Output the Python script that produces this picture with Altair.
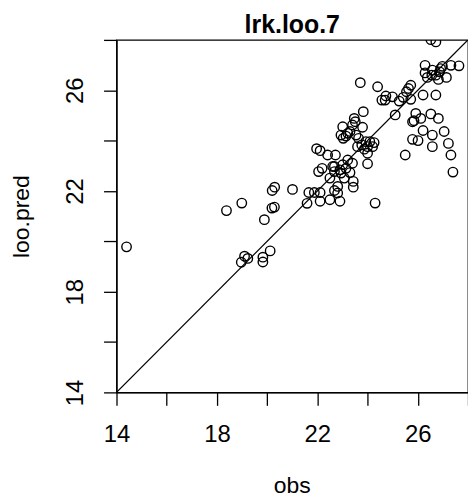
import altair as alt
import pandas as pd

obs = [14.40, 18.38, 18.99, 18.97, 19.10, 19.23, 19.83, 19.83, 20.12, 19.89,
       20.19, 20.29, 20.20, 20.30, 21.01, 21.59, 21.66, 21.88, 22.11, 22.11,
       21.97, 22.11, 22.05, 22.19, 22.41, 22.50, 22.50, 22.72, 22.68, 22.68,
       22.68, 22.81, 22.90, 22.81, 22.90, 23.01, 23.14, 23.21, 23.30, 23.40,
       23.43, 23.43, 23.01, 22.94, 23.03, 23.14, 23.30, 23.47, 23.51, 23.40,
       23.54, 23.64, 23.80, 23.83, 23.71, 23.60, 23.77, 23.87, 23.93, 24.00,
       24.09, 24.20, 24.26, 24.00, 24.00, 24.30, 24.40, 24.57, 24.73, 24.70,
       24.99, 25.10, 25.26, 25.42, 25.55, 25.63, 25.72, 25.72, 25.50, 25.79,
       25.92, 25.85, 26.01, 26.12, 26.21, 26.21, 26.29, 26.29, 26.38, 26.52,
       26.58, 26.58, 26.72, 26.82, 26.52, 26.72, 26.72, 26.82, 26.91, 26.98,
       27.05, 27.14, 27.22, 27.32, 27.40, 27.32, 27.64, 26.87, 26.58, 22.94,
       23.07, 22.61, 23.21, 25.79, 26.56]
loo_pred = [19.78, 21.22, 21.52, 19.17, 19.41, 19.32, 19.37, 19.18, 19.62, 20.86,
            21.32, 21.36, 22.02, 22.15, 22.06, 21.51, 21.94, 21.94, 21.94, 21.59,
            23.68, 23.60, 22.77, 22.90, 23.43, 22.51, 21.65, 23.43, 22.97, 22.77,
            22.02, 21.92, 21.59, 22.18, 22.84, 23.04, 22.90, 23.23, 22.73, 23.10,
            22.38, 22.15, 24.55, 24.22, 24.09, 24.18, 24.36, 24.88, 24.75, 24.62,
            24.22, 24.09, 24.53, 25.15, 26.30, 23.76, 23.83, 23.66, 23.96, 23.76,
            23.96, 23.76, 23.92, 23.50, 23.08, 21.52, 26.14, 25.61, 25.77, 25.61,
            25.74, 25.02, 25.57, 25.72, 25.94, 26.07, 26.20, 25.64, 23.43, 24.05,
            25.08, 24.79, 24.00, 24.88, 25.81, 24.40, 26.99, 26.69, 26.51, 25.06,
            24.22, 23.76, 25.81, 24.88, 28.01, 27.92, 26.60, 26.43, 26.86, 26.95,
            24.36, 26.51, 23.89, 23.43, 22.75, 26.99, 26.97, 26.73, 26.80, 22.71,
            22.51, 22.97, 24.29, 24.75, 26.60]

line_x = [14, 28]
line_y = [14, 28]
tick_values = [14, 16, 18, 20, 22, 24, 26, 28]

FONT = "Liberation Sans"

pts = pd.DataFrame({"obs": obs, "pred": loo_pred})
ln = pd.DataFrame({"obs": line_x, "pred": line_y})

xscale = alt.Scale(domain=[14, 28], nice=False, zero=False)
yscale = alt.Scale(domain=[14, 28], nice=False, zero=False)

xaxis = alt.Axis(values=tick_values, grid=False,
                 labelExpr="datum.value % 4 == 2 ? datum.label : ''",
                 labelBaseline="alphabetic", labelPadding=36,
                 title="obs", titleBaseline="alphabetic", titleX=176, titleY=101,
                 titleAnchor="middle", titleAlign="center")
yaxis = alt.Axis(values=tick_values, grid=False,
                 labelExpr="datum.value % 4 == 2 ? datum.label : ''",
                 labelAngle=270, labelAlign="center", labelBaseline="alphabetic",
                 labelPadding=21,
                 title="loo.pred", titleAngle=270, titleBaseline="alphabetic",
                 titleAlign="center", titleX=-88, titleY=177)

points = alt.Chart(pts).mark_point(
    shape="circle", filled=False, color="black", size=90, strokeWidth=1.4,
    opacity=1, clip=True
).encode(
    x=alt.X("obs:Q", scale=xscale, axis=xaxis),
    y=alt.Y("pred:Q", scale=yscale, axis=yaxis),
)

diag = alt.Chart(ln).mark_line(color="black", strokeWidth=1.3, clip=True).encode(
    x=alt.X("obs:Q", scale=xscale),
    y=alt.Y("pred:Q", scale=yscale),
)

chart = alt.layer(diag, points).properties(
    width=353, height=354,
    background="white",
    title=alt.TitleParams("lrk.loo.7", fontSize=25, fontWeight="bold", font=FONT,
                          color="black", anchor="middle", frame="group", offset=1),
    autosize=alt.AutoSizeParams(type="none"),
    padding={"left": 117, "top": 39, "right": 0, "bottom": 105},
).configure_view(
    stroke="black", strokeWidth=1.3
).configure_axis(
    domainColor="black", domainWidth=1.3, tickColor="black", tickWidth=1.3,
    tickSize=13, labelFont=FONT, labelFontSize=24, labelColor="black",
    titleFont=FONT, titleFontSize=23, titleFontWeight="normal", titleColor="black",
    labelOverlap=False, labelFlush=False
)

chart.save("out.html", embed_options={"renderer": "svg", "actions": False})
